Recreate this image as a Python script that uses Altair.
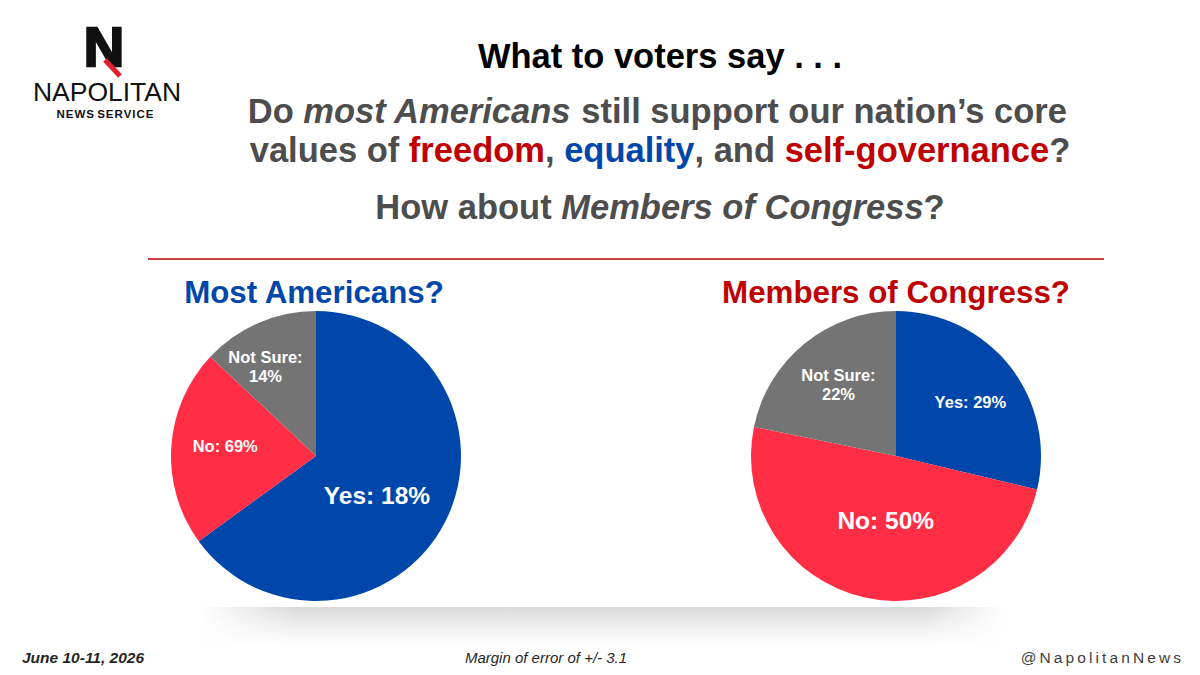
import altair as alt
import pandas as pd

# ---------------- data ----------------
categories = ["Yes", "No", "Not Sure"]
americans_values = [65, 22, 13]
americans_labels = ["Yes: 18%", "No: 69%", "Not Sure:\n14%"]
congress_values = [29, 50, 22]
congress_labels = ["Yes: 29%", "No: 50%", "Not Sure:\n22%"]
slice_colors = ["#0047AB", "#FF2E45", "#747474"]

title_text = "What to voters say . . ."
line1 = [("Do ", "#4D4D4D", "normal"), ("most Americans", "#4D4D4D", "italic"),
         (" still support our nation\u2019s core", "#4D4D4D", "normal")]
line2 = [("values of ", "#4D4D4D", "normal"), ("freedom", "#C00000", "normal"),
         (", ", "#4D4D4D", "normal"), ("equality", "#0047AB", "normal"),
         (", and ", "#4D4D4D", "normal"), ("self-governance", "#C00000", "normal"),
         ("?", "#4D4D4D", "normal")]
line3 = [("How about ", "#4D4D4D", "normal"), ("Members of Congress", "#4D4D4D", "italic"),
         ("?", "#4D4D4D", "normal")]

FONT = "Liberation Sans"
OX, OY = 8, 8


def px(x):
    return x - OX


def py(y):
    return y - OY


dummy = pd.DataFrame({"d": [0]})

# Arial/Liberation Sans Bold advance widths (per 1000 em)
BOLD_W = {" ": 278, "D": 722, "o": 611, "m": 889, "s": 556, "t": 333, "A": 722, "e": 556,
          "r": 389, "i": 278, "c": 556, "a": 556, "n": 611, "l": 278, "u": 611, "p": 611,
          "\u2019": 278, "v": 556, "f": 333, "d": 611, "q": 611, "y": 556, ",": 278,
          "g": 611, "-": 333, "?": 611, "H": 722, "w": 778, "b": 611, "M": 833, "C": 722}


def tw(s, size):
    return sum(BOLD_W[c] for c in s) * size / 1000.0


def text_layer(txt, x, y, size, color, weight="bold", style="normal", align="center",
               baseline="alphabetic", font=FONT, **kw):
    return alt.Chart(dummy).mark_text(
        text=txt, fontSize=size, font=font, fontWeight=weight, fontStyle=style,
        color=color, align=align, baseline=baseline, **kw
    ).encode(x=alt.value(px(x)), y=alt.value(py(y)))


def rich_line(segments, center_x, baseline_y, size):
    total = sum(tw(s, size) for s, _, _ in segments)
    x = center_x - total / 2.0
    out = []
    for s, col, st in segments:
        body = s.lstrip(" ")
        lead = tw(s[: len(s) - len(body)], size)
        out.append(text_layer(body.rstrip(" "), x + lead, baseline_y, size, col,
                              style=st, align="left"))
        x += tw(s, size)
    return out


def pie(values, labels, cx, cy, specs):
    df = pd.DataFrame({"cat": categories, "value": values, "label": labels,
                       "ord": list(range(len(categories)))})
    base = alt.Chart(df)
    theta = alt.Theta("value:Q", stack=True)
    order = alt.Order("ord:Q")
    arc = base.mark_arc(radius=145).encode(
        theta=theta,
        color=alt.Color("cat:N", scale=alt.Scale(domain=categories, range=slice_colors),
                        legend=None),
        order=order,
        x=alt.value(px(cx)), y=alt.value(py(cy)),
    )
    layers = [arc]
    for cat, r, size, dx, dy in specs:
        t = base.transform_calculate(
            shown=f"datum.cat == '{cat}' ? datum.label : ''"
        ).mark_text(
            radius=r, fontSize=size, fontWeight="bold", font=FONT, color="white",
            lineBreak="\n", lineHeight=19, dx=dx, dy=dy
        ).encode(
            theta=theta, order=order, text="shown:N",
            x=alt.value(px(cx)), y=alt.value(py(cy)),
        )
        layers.append(t)
    return layers


layers = []

# soft shadow band beneath the pies (vertical fade + faded ends)
layers.append(
    alt.Chart(dummy).mark_rect(
        color=alt.LinearGradient(
            gradient="linear", x1=0, y1=0, x2=0, y2=1,
            stops=[alt.GradientStop(color="#dadada", offset=0),
                   alt.GradientStop(color="#efefef", offset=0.5),
                   alt.GradientStop(color="#ffffff", offset=1)])
    ).encode(
        x=alt.value(px(200)), x2=alt.value(px(1002)),
        y=alt.value(py(607)), y2=alt.value(py(646)),
    )
)
layers.append(
    alt.Chart(dummy).mark_rect(
        color=alt.LinearGradient(
            gradient="linear", x1=0, y1=0, x2=1, y2=0,
            stops=[alt.GradientStop(color="rgba(255,255,255,1)", offset=0),
                   alt.GradientStop(color="rgba(255,255,255,0)", offset=1)])
    ).encode(
        x=alt.value(px(198)), x2=alt.value(px(295)),
        y=alt.value(py(606)), y2=alt.value(py(647)),
    )
)
layers.append(
    alt.Chart(dummy).mark_rect(
        color=alt.LinearGradient(
            gradient="linear", x1=0, y1=0, x2=1, y2=0,
            stops=[alt.GradientStop(color="rgba(255,255,255,0)", offset=0),
                   alt.GradientStop(color="rgba(255,255,255,1)", offset=1)])
    ).encode(
        x=alt.value(px(925)), x2=alt.value(px(1004)),
        y=alt.value(py(606)), y2=alt.value(py(647)),
    )
)

# logo
layers.append(text_layer("N", 104, 66, 56, "#111111", stroke="#111111", strokeWidth=2.5))
layers.append(
    alt.Chart(dummy).mark_rule(color="#E3202A", strokeWidth=5).encode(
        x=alt.value(px(105)), y=alt.value(py(60)),
        x2=alt.value(px(120)), y2=alt.value(py(76)),
    )
)
layers.append(text_layer("NAPOLITAN", 107, 100.5, 26.5, "#111111", weight="normal"))
layers.append(text_layer("\u200a".join("NEWS") + " " + "\u200a".join("SERVICE"),
                         105, 118, 11.5, "#111111"))

# titles
layers.append(text_layer(title_text, 660, 68, 34.5, "#000000"))
layers += rich_line(line1, 658, 123, 34.5)
layers += rich_line(line2, 660, 162, 34.5)
layers += rich_line(line3, 660, 219, 34.5)

# separator rule
layers.append(
    alt.Chart(dummy).mark_rule(color="#C00000", strokeWidth=1.5).encode(
        x=alt.value(px(148)), x2=alt.value(px(1104)), y=alt.value(py(259)),
    )
)

# section headers
layers.append(text_layer("Most Americans?", 314, 303, 31.3, "#0047AB"))
layers.append(text_layer("Members of Congress?", 896, 303, 31.3, "#C00000"))

# pies
layers += pie(americans_values, americans_labels, 316, 456,
              [("Yes", 74, 24.5, -5, 7), ("No", 91, 16.5, 0, -3.5),
               ("Not Sure", 102, 16.5, -10, -4.5)])
layers += pie(congress_values, congress_labels, 896, 456,
              [("Yes", 91, 16.5, 3, 3), ("No", 66, 24.5, 4, 2),
               ("Not Sure", 91, 16.5, 0, -9)])

# footer
layers.append(text_layer("June 10-11, 2026", 22, 663, 15.5, "#262626", style="italic",
                         align="left"))
layers.append(text_layer("Margin of error of +/- 3.1", 546, 663, 15, "#262626",
                         weight="normal", style="italic"))
layers.append(text_layer("\u2009".join("@NapolitanNews"), 1181, 663, 15.5, "#404040",
                         weight="normal", align="right"))

chart = alt.layer(*layers).resolve_scale(theta="independent").properties(
    width=1184, height=659, padding=0, autosize="none", background="white"
).configure_view(stroke=None)

chart.save("out.html", embed_options={"renderer": "svg", "actions": False})
